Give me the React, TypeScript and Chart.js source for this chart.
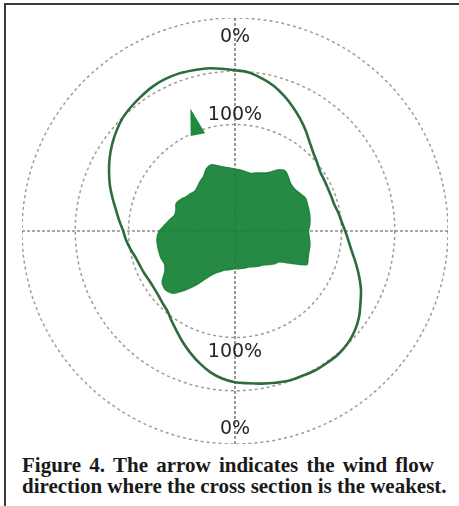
import React, { useEffect, useRef } from 'react';
import { Chart, registerables } from 'chart.js';

Chart.register(...registerables);

// Directions (degrees clockwise from north)
const DIRECTIONS_DEG = [
  0, 5, 10, 15, 20, 25, 30, 35, 40, 45, 50, 55, 60, 65, 70, 75, 80, 85,
  90, 95, 100, 105, 110, 115, 120, 125, 130, 135, 140, 145, 150, 155, 160, 165, 170, 175,
  180, 185, 190, 195, 200, 205, 210, 215, 220, 225, 230, 235, 240, 245, 250, 255, 260, 265,
  270, 275, 280, 285, 290, 295, 300, 305, 310, 315, 320, 325, 330, 335, 340, 345, 350, 355,
];

// Outer envelope (ring units: 4 = outer ring "0%", 2 = inner ring "100%")
const ENVELOPE = [
  3.02, 2.99, 2.91, 2.82, 2.70, 2.57, 2.44, 2.31, 2.18, 2.08, 2.01, 1.95, 1.93, 1.92, 1.92, 1.93, 1.97, 2.01,
  2.07, 2.14, 2.23, 2.35, 2.48, 2.61, 2.72, 2.84, 2.93, 2.99, 3.02, 3.02, 3.02, 3.00, 2.99, 2.95, 2.91, 2.87,
  2.84, 2.78, 2.69, 2.57, 2.44, 2.31, 2.18, 2.07, 1.97, 1.92, 1.88, 1.86, 1.86, 1.88, 1.90, 1.93, 1.99, 2.05,
  2.10, 2.18, 2.27, 2.38, 2.50, 2.61, 2.72, 2.82, 2.91, 2.99, 3.04, 3.08, 3.12, 3.14, 3.14, 3.12, 3.10, 3.06,
];

// Filled cross-section shape
const SECTION = [
  1.16, 1.15, 1.13, 1.12, 1.16, 1.20, 1.27, 1.40, 1.47, 1.42, 1.37, 1.37, 1.41, 1.46, 1.45, 1.44, 1.43, 1.41,
  1.38, 1.40, 1.43, 1.44, 1.46, 1.49, 1.21, 1.01, 0.96, 0.89, 0.83, 0.80, 0.77, 0.74, 0.72, 0.72, 0.71, 0.71,
  0.71, 0.72, 0.74, 0.76, 0.81, 0.87, 0.99, 1.21, 1.44, 1.65, 1.71, 1.67, 1.52, 1.46, 1.48, 1.48, 1.48, 1.47,
  1.42, 1.32, 1.24, 1.17, 1.18, 1.22, 1.18, 1.12, 1.09, 1.06, 1.09, 1.14, 1.18, 1.28, 1.32, 1.27, 1.22, 1.19,
];

// Arrow (weakest direction) vertices: direction in degrees and radial value
const ARROW_DEG = [340, 335, 343];
const ARROW_VALUES = [2.45, 1.97, 1.92];

// Rings and their labels
const RING_VALUES = [2, 3, 4];
const RING_LABELS = ['100%', '', '0%'];
const CROSS_DEG = [0, 90, 180, 270];

const ringLabelPlugin = {
  id: 'ringLabels',
  afterDatasetsDraw(chart: any) {
    const scale = chart.scales.r;
    const ctx = chart.ctx;
    ctx.save();
    ctx.font = '19px "DejaVu Sans"';
    ctx.fillStyle = '#262626';
    ctx.textAlign = 'center';
    ctx.textBaseline = 'alphabetic';
    RING_VALUES.forEach((v, i) => {
      const text = RING_LABELS[i];
      if (!text) return;
      const d = scale.getDistanceFromCenterForValue(v);
      const r = v === scale.max ? d - 17 : d + 12;
      ctx.fillText(text, scale.xCenter, scale.yCenter - r + 7);
      ctx.fillText(text, scale.xCenter, scale.yCenter + r + 7);
    });
    ctx.restore();
  },
};

const arrowPlugin = {
  id: 'arrow',
  afterDatasetsDraw(chart: any) {
    const scale = chart.scales.r;
    const ctx = chart.ctx;
    const step = 360 / DIRECTIONS_DEG.length;
    ctx.save();
    ctx.fillStyle = '#1f8a3e';
    ctx.beginPath();
    ARROW_DEG.forEach((deg, i) => {
      const p = scale.getPointPosition(deg / step, scale.getDistanceFromCenterForValue(ARROW_VALUES[i]));
      if (i === 0) ctx.moveTo(p.x, p.y);
      else ctx.lineTo(p.x, p.y);
    });
    ctx.closePath();
    ctx.fill();
    ctx.restore();
  },
};

function PolarChart() {
  const ref = useRef<HTMLCanvasElement>(null);
  useEffect(() => {
    if (!ref.current) return;
    const chart = new Chart(ref.current, {
      type: 'radar',
      data: {
        labels: DIRECTIONS_DEG.map((d) => `${d}°`),
        datasets: [
          {
            label: 'Envelope',
            data: ENVELOPE,
            fill: false,
            borderColor: '#2d6c3c',
            borderWidth: 2.6,
            tension: 0.35,
            pointRadius: 0,
          },
          {
            label: 'Cross section',
            data: SECTION,
            fill: true,
            backgroundColor: 'rgba(24,130,56,0.94)',
            borderColor: 'rgba(24,130,56,0.9)',
            borderWidth: 1.5,
            tension: 0.25,
            pointRadius: 0,
          },
        ],
      },
      options: {
        responsive: false,
        animation: false,
        events: [],
        layout: { padding: 0 },
        plugins: { legend: { display: false }, tooltip: { enabled: false } },
        scales: {
          r: {
            min: 0,
            max: 4,
            startAngle: 0,
            ticks: { display: false, stepSize: 1 },
            pointLabels: { display: false },
            grid: {
              circular: true,
              color: '#9c9c9c',
              lineWidth: (c: any) => (RING_VALUES.includes(c.tick?.value) ? 1.5 : 0),
            },
            border: { dash: [3, 3] },
            angleLines: {
              color: '#555555',
              lineWidth: (c: any) => (CROSS_DEG.includes(DIRECTIONS_DEG[c.index]) ? 1.2 : 0),
              borderDash: [3, 2],
            },
          },
        },
      },
      plugins: [ringLabelPlugin, arrowPlugin],
    } as any);
    return () => chart.destroy();
  }, []);
  return (
    <canvas
      ref={ref}
      width={426}
      height={426}
      style={{ position: 'absolute', left: 22, top: 18, width: 426, height: 426 }}
    />
  );
}

export default function App() {
  const captionStyle: React.CSSProperties = {
    position: 'absolute',
    left: 22,
    font: 'bold 21px "Liberation Serif", serif',
    color: '#1a1a1a',
    lineHeight: '21px',
    whiteSpace: 'nowrap',
  };
  return (
    <div style={{ position: 'absolute', left: 0, top: 0, width: 459, height: 506, background: '#fff', overflow: 'hidden' }}>
      <div
        style={{
          position: 'absolute',
          left: 4,
          top: 3,
          width: 455,
          height: 503,
          borderTop: '2px solid #3a3a3a',
          borderLeft: '2px solid #3a3a3a',
          boxSizing: 'border-box',
        }}
      />
      <PolarChart />
      <div style={{ ...captionStyle, top: 455, wordSpacing: 3 }}>Figure 4. The arrow indicates the wind flow</div>
      <div style={{ ...captionStyle, top: 476 }}>direction where the cross section is the weakest.</div>
    </div>
  );
}
